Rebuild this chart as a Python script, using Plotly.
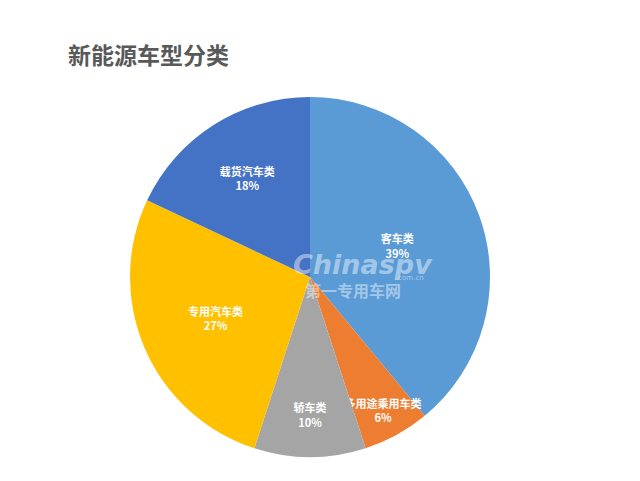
import plotly.graph_objects as go

categories = ["客车类", "多用途乘用车类", "轿车类", "专用汽车类", "载货汽车类"]
values = [39, 6, 10, 27, 18]
colors = ["#5B9BD5", "#ED7D31", "#A5A5A5", "#FFC000", "#4472C4"]
title_text = "新能源车型分类"

W, H = 640, 481
cx, cy, r = 302, 269, 180

fig = go.Figure(go.Pie(
    labels=categories,
    values=values,
    sort=False,
    direction="clockwise",
    rotation=0,
    marker=dict(colors=colors, line=dict(width=0)),
    texttemplate="<b>%{label}</b><br><b>%{value}%</b>",
    textposition="inside",
    insidetextorientation="horizontal",
    textfont=dict(color="white", size=11, family="Noto Sans CJK SC"),
    showlegend=False,
    hoverinfo="label+percent",
    domain=dict(x=[(cx - r) / W, (cx + r) / W], y=[1 - (cy + r) / H, 1 - (cy - r) / H]),
))

fig.update_layout(
    width=W, height=H,
    margin=dict(l=0, r=0, t=0, b=0),
    paper_bgcolor="white",
    uniformtext=dict(minsize=11, mode="show"),
    title=dict(text="<b>" + title_text + "</b>", x=60 / W, xanchor="left", y=1 - 48 / H, yanchor="middle",
               font=dict(size=23, color="#595959", family="Noto Sans CJK SC")),
    annotations=[
        dict(text="<b><i>Chinaspv</i></b>", x=355 / W, y=1 - 256 / H, xref="paper", yref="paper",
             showarrow=False, font=dict(size=27, color="rgba(255,255,255,0.45)", family="DejaVu Sans")),
        dict(text="<b>第一专用车网</b>", x=345 / W, y=1 - 282 / H, xref="paper", yref="paper",
             showarrow=False, font=dict(size=16, color="rgba(255,255,255,0.45)", family="Noto Sans CJK SC")),
        dict(text=".com.cn", x=402 / W, y=1 - 270 / H, xref="paper", yref="paper",
             showarrow=False, font=dict(size=7, color="rgba(255,255,255,0.45)", family="DejaVu Sans")),
    ],
)

fig.write_html("out.html")
